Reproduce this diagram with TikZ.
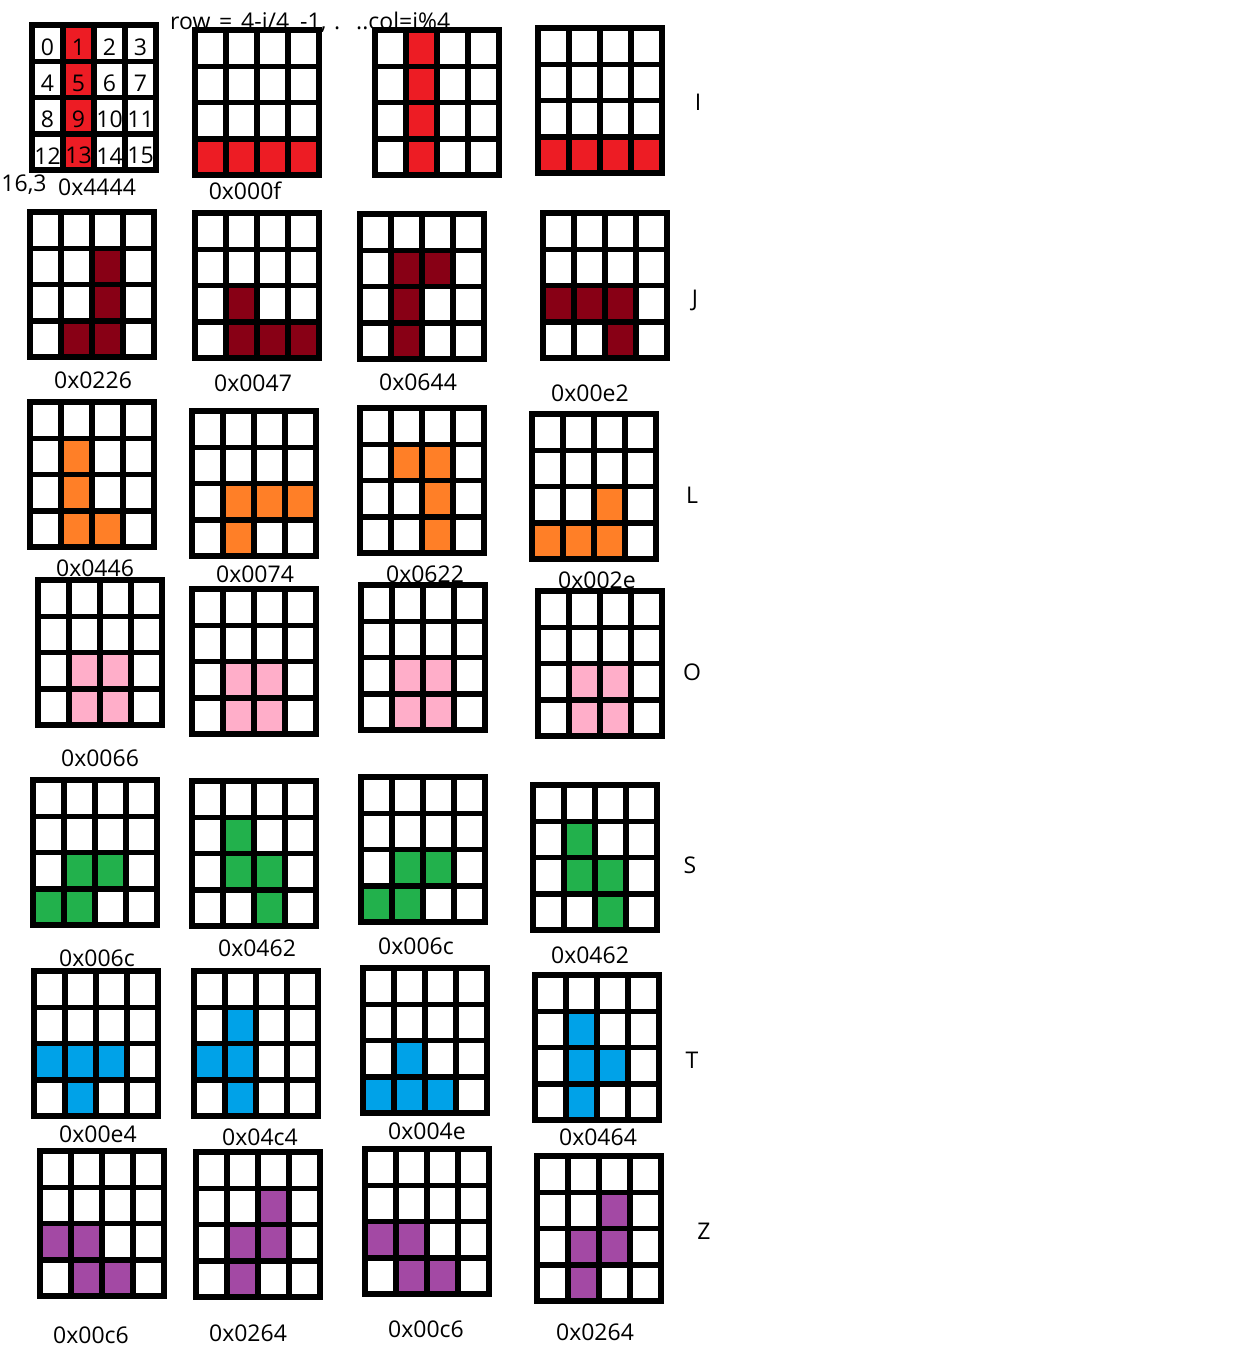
\documentclass[tikz,border=0pt]{standalone}
\usepackage{fontspec}
\setmainfont{Open Sans}
\definecolor{pred}{HTML}{ED1C24}
\definecolor{pdark}{HTML}{880015}
\definecolor{porange}{HTML}{FF7F27}
\definecolor{ppink}{HTML}{FFAEC9}
\definecolor{pgreen}{HTML}{22B14C}
\definecolor{pblue}{HTML}{00A2E8}
\definecolor{ppurple}{HTML}{A349A4}
\tikzset{
  gridline/.style={line width=5.5pt, black},
  lbl/.style={inner sep=0pt, font=\fontsize{23}{27}\selectfont},
  num/.style={inner sep=0pt, font=\fontsize{23}{27}\selectfont},
}
\newcommand\tgrid[4]{%
  \begin{scope}[shift={(#1,#2)}]
    \fill[white] (0,0) rectangle (124,145);
    \foreach \r/\c in {#4} \fill[#3] (\c*31,\r*36.25) rectangle ++(31,36.25);
    \foreach \k in {1,2,3} {
      \draw[gridline] (\k*31,0) -- (\k*31,145);
      \draw[gridline] (0,\k*36.25) -- (124,\k*36.25);
    }
    \draw[gridline] (0,0) rectangle (124,145);
  \end{scope}}
\begin{document}
\begin{tikzpicture}[x=1pt,y=-1pt]
\useasboundingbox (0,0) rectangle (1233,1365);
\fill[white] (0,0) rectangle (1233,1365);
% heading text (partly hidden by grids)
\node[lbl, anchor=base west] (h1) at (170,29) {row};
\node[lbl, anchor=base west] (h2) at (219,29) {=};
\node[lbl, anchor=base west] (h3) at (241,29) {4-i/4};
\node[lbl, anchor=base west] (h4) at (300,29) {-1,};
\node[lbl, anchor=base west] (h5) at (334,29) {.};
\node[lbl, anchor=base west] (h6) at (356,29) {..col=i\%4};
% I
\tgrid{32}{25}{pred}{0/1,1/1,2/1,3/1}
\tgrid{195}{30}{pred}{3/0,3/1,3/2,3/3}
\tgrid{375}{30}{pred}{0/1,1/1,2/1,3/1}
\tgrid{538}{28}{pred}{3/0,3/1,3/2,3/3}
% numbers in first grid
\foreach \n [count=\i from 0] in {0,1,2,3,4,5,6,7,8,9,10,11,12,13,14,15} {
  \pgfmathtruncatemacro\rr{int(\i/4)}
  \pgfmathtruncatemacro\cc{mod(\i,4)}
  \node[num] (n\i) at (32+15.5+\cc*31, 25+18+\rr*36.25+4) {\n};
}
\node[lbl] (a1) at (97,187) {0x4444};
\node[lbl] (a0) at (24,185) {16,3};
\node[lbl] (a2) at (245,191) {0x000f};
\node[lbl] (tI) at (698,102) {I};
% J
\tgrid{30}{212}{pdark}{1/2,2/2,3/1,3/2}
\tgrid{195}{213}{pdark}{2/1,3/1,3/2,3/3}
\tgrid{360}{214}{pdark}{1/1,1/2,2/1,3/1}
\tgrid{543}{213}{pdark}{2/0,2/1,2/2,3/2}
\node[lbl] (b1) at (93,380) {0x0226};
\node[lbl] (b2) at (253,383) {0x0047};
\node[lbl] (b3) at (418,382) {0x0644};
\node[lbl] (b4) at (590,393) {0x00e2};
\node[lbl] (tJ) at (695,300) {J};
% L
\tgrid{30}{402}{porange}{1/1,2/1,3/1,3/2}
\tgrid{192}{411}{porange}{2/1,2/2,2/3,3/1}
\tgrid{360}{408}{porange}{1/1,1/2,2/2,3/2}
\tgrid{532}{414}{porange}{2/2,3/0,3/1,3/2}
\node[lbl] (c1) at (95,568) {0x0446};
\node[lbl] (c2) at (255,574) {0x0074};
\node[lbl] (c3) at (425,574) {0x0622};
\node[lbl] (c4) at (597,580) {0x002e};
\node[lbl] (tL) at (692,495) {L};
% O
\tgrid{38}{580}{ppink}{2/1,2/2,3/1,3/2}
\tgrid{192}{589}{ppink}{2/1,2/2,3/1,3/2}
\tgrid{361}{585}{ppink}{2/1,2/2,3/1,3/2}
\tgrid{538}{591}{ppink}{2/1,2/2,3/1,3/2}
\node[lbl] (d1) at (100,758) {0x0066};
\node[lbl] (tO) at (692,672) {O};
% S
\tgrid{33}{780}{pgreen}{2/1,2/2,3/0,3/1}
\tgrid{192}{781}{pgreen}{1/1,2/1,2/2,3/2}
\tgrid{361}{777}{pgreen}{2/1,2/2,3/0,3/1}
\tgrid{533}{785}{pgreen}{1/1,2/1,2/2,3/2}
\node[lbl] (e1) at (97,958) {0x006c};
\node[lbl] (e2) at (257,948) {0x0462};
\node[lbl] (e3) at (416,946) {0x006c};
\node[lbl] (e4) at (590,955) {0x0462};
\node[lbl] (tS) at (690,865) {S};
% T
\tgrid{34}{971}{pblue}{2/0,2/1,2/2,3/1}
\tgrid{194}{971}{pblue}{1/1,2/0,2/1,3/1}
\tgrid{363}{968}{pblue}{2/1,3/0,3/1,3/2}
\tgrid{535}{975}{pblue}{1/1,2/1,2/2,3/1}
\node[lbl] (f1) at (98,1134) {0x00e4};
\node[lbl] (f2) at (260,1137) {0x04c4};
\node[lbl] (f3) at (427,1131) {0x004e};
\node[lbl] (f4) at (598,1137) {0x0464};
\node[lbl] (tT) at (692,1060) {T};
% Z
\tgrid{40}{1151}{ppurple}{2/0,2/1,3/1,3/2}
\tgrid{196}{1152}{ppurple}{1/2,2/1,2/2,3/1}
\tgrid{365}{1149}{ppurple}{2/0,2/1,3/1,3/2}
\tgrid{537}{1156}{ppurple}{1/2,2/1,2/2,3/1}
\node[lbl] (g1) at (91,1335) {0x00c6};
\node[lbl] (g2) at (248,1333) {0x0264};
\node[lbl] (g3) at (426,1329) {0x00c6};
\node[lbl] (g4) at (595,1332) {0x0264};
\node[lbl] (tZ) at (704,1231) {Z};
\end{tikzpicture}
\end{document}
